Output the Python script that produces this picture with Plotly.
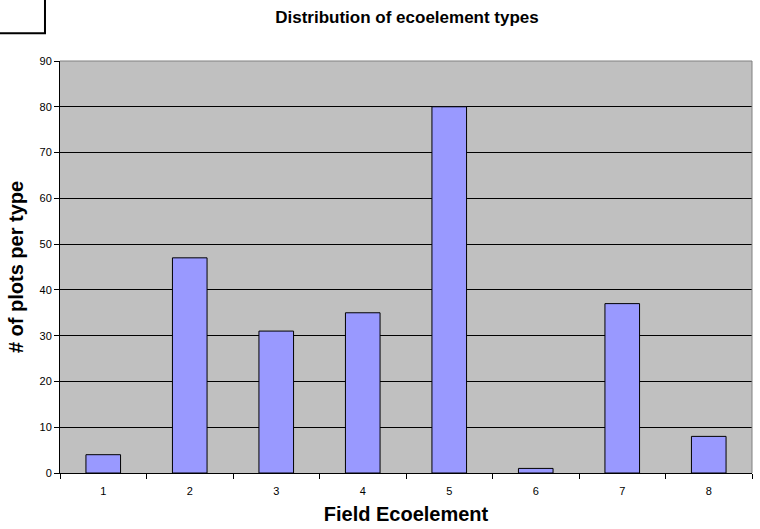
import plotly.graph_objects as go

# Ecoelement categories and counts of plots per type
categories = [1, 2, 3, 4, 5, 6, 7, 8]
counts = [4, 47, 31, 35, 80, 1, 37, 8]
y_ticks = [0, 10, 20, 30, 40, 50, 60, 70, 80, 90]

font_family = "Liberation Sans, Arial, sans-serif"

fig = go.Figure(
    go.Bar(
        x=categories,
        y=counts,
        width=0.4,
        marker=dict(color="#9999FF", line=dict(color="#000000", width=1)),
    )
)

fig.update_layout(
    width=760,
    height=529,
    margin=dict(l=60, r=8, t=61, b=53),
    paper_bgcolor="white",
    plot_bgcolor="#C0C0C0",
    showlegend=False,
    font=dict(family=font_family, color="black"),
    title=dict(
        text="<b>Distribution of ecoelement types</b>",
        x=407 / 760,
        xanchor="center",
        y=1 - 17 / 529,
        yanchor="middle",
        font=dict(size=17, family=font_family),
    ),
    xaxis=dict(
        range=[0.5, 8.5],
        tickvals=categories,
        ticktext=[str(c) for c in categories],
        ticks="",
        showgrid=False,
        showline=True,
        linecolor="black",
        linewidth=1,
        tickfont=dict(size=11),
        ticklabelstandoff=8,
        minor=dict(tick0=0.5, dtick=1, ticks="outside", ticklen=5,
                   tickcolor="black", showgrid=False),
        title=dict(text="<b>Field Ecoelement</b>", font=dict(size=20), standoff=10),
        zeroline=False,
    ),
    yaxis=dict(
        range=[0, 90],
        tickvals=y_ticks,
        ticks="outside",
        ticklen=5,
        tickcolor="black",
        showline=True,
        linecolor="black",
        linewidth=1,
        showgrid=True,
        gridcolor="#000000",
        gridwidth=1,
        tickfont=dict(size=11),
        title=dict(text="<b># of plots per type</b>", font=dict(size=20), standoff=10),
        zeroline=False,
    ),
    shapes=[
        # gray frame on the top and right of the plot area
        dict(type="line", xref="paper", yref="paper", x0=0, x1=1, y0=1, y1=1,
             line=dict(color="#808080", width=1), layer="above"),
        dict(type="line", xref="paper", yref="paper", x0=1, x1=1, y0=0, y1=1,
             line=dict(color="#808080", width=1), layer="above"),
        # framed box in the upper-left corner
        dict(type="rect", xref="paper", yref="paper",
             x0=-0.095, x1=-0.0217, y0=1.0676, y1=1.16,
             line=dict(color="black", width=2), fillcolor="rgba(0,0,0,0)"),
    ],
)

fig.write_html("out.html")
